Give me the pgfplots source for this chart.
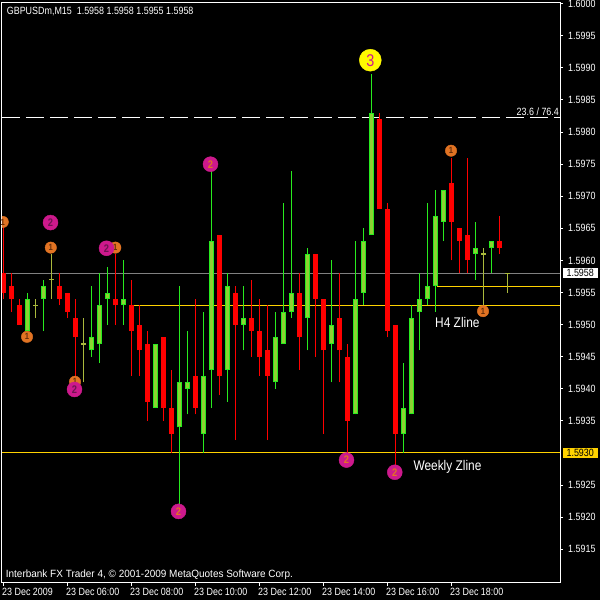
\documentclass[border=0pt]{standalone}
\usepackage{fontspec}
\setmainfont{Liberation Sans}[FakeStretch=0.85]
\newfontfamily\widefont{Liberation Sans}[FakeStretch=0.95]
\usepackage{pgfplots}
\pgfplotsset{compat=1.18}
\usepackage{pgfplotstable}

\definecolor{bullfill}{RGB}{140,210,50}
\definecolor{bullline}{RGB}{40,235,30}
\definecolor{bear}{RGB}{255,0,0}
\definecolor{dojic}{RGB}{170,185,60}
\definecolor{zgold}{RGB}{255,210,0}
\definecolor{bidgray}{RGB}{128,128,128}
\definecolor{mOrange}{RGB}{225,115,35}
\definecolor{mMagenta}{RGB}{205,25,140}
\definecolor{mDark}{RGB}{110,20,80}
\definecolor{mBrown}{RGB}{100,45,10}
\definecolor{mYellow}{RGB}{255,250,0}
\newcommand\lbl{\fontsize{10.5}{10.5}\selectfont}
\newcommand\biglbl{\fontsize{14}{14}\selectfont}
\pgfplotsset{candle/.style={draw=none, mark=none, error bars/.cd, y dir=plus, y explicit, error mark=none}}

% candle data: k = bar index (15-minute bars from 04:00), o h l c
\pgfplotstableread{
k o h l c
3 1.5949 1.5955 1.5949 1.5954
5 1.5954 1.5957 1.5949 1.5956
11 1.5946 1.5956 1.5945 1.5948
12 1.5947 1.5958 1.5944 1.5953
13 1.5954 1.5959 1.5950 1.5955
15 1.5953 1.5960 1.5950 1.5954
19 1.5937 1.5947 1.5937 1.5947
22 1.5934 1.5956 1.5922 1.5941
23 1.5940 1.5949 1.5936 1.5941
25 1.5933 1.5952 1.5930 1.5942
26 1.5943 1.5974 1.5937 1.5963
28 1.5943 1.5958 1.5938 1.5956
30 1.5950 1.5956 1.5946 1.5951
34 1.5941 1.5952 1.5940 1.5948
35 1.5947 1.5969 1.5947 1.5952
36 1.5952 1.5974 1.5951 1.5955
38 1.5951 1.5962 1.5946 1.5961
41 1.5947 1.5960 1.5941 1.5950
44 1.5936 1.5963 1.5936 1.5954
45 1.5955 1.5965 1.5953 1.5963
46 1.5964 1.5989 1.5964 1.5983
50 1.5933 1.5944 1.5930 1.5937
51 1.5936 1.5953 1.5936 1.5951
52 1.5952 1.5958 1.5946 1.5954
53 1.5954 1.5969 1.5953 1.5956
54 1.5956 1.5971 1.5952 1.5967
55 1.5966 1.5971 1.5963 1.5971
59 1.5961 1.5966 1.5957 1.5962
61 1.5962 1.5963 1.5958 1.5963
}\bull

\pgfplotstableread{
k o h l c
0 1.5958 1.5966 1.5954 1.5955
1 1.5956 1.5958 1.5952 1.5954
2 1.5953 1.5954 1.5950 1.5950
7 1.5956 1.5958 1.5953 1.5954
8 1.5955 1.5955 1.5951 1.5952
9 1.5951 1.5954 1.5942 1.5948
14 1.5954 1.5961 1.5950 1.5953
16 1.5953 1.5957 1.5942 1.5949
17 1.5950 1.5953 1.5942 1.5946
18 1.5947 1.5949 1.5935 1.5938
20 1.5948 1.5948 1.5935 1.5937
21 1.5937 1.5943 1.5930 1.5933
24 1.5942 1.5954 1.5936 1.5937
27 1.5964 1.5964 1.5939 1.5942
29 1.5955 1.5956 1.5932 1.5950
31 1.5951 1.5957 1.5945 1.5949
32 1.5949 1.5954 1.5942 1.5945
33 1.5946 1.5953 1.5932 1.5942
37 1.5955 1.5958 1.5943 1.5948
39 1.5961 1.5961 1.5945 1.5954
40 1.5954 1.5954 1.5933 1.5946
42 1.5951 1.5958 1.5941 1.5946
43 1.5945 1.5947 1.5930 1.5935
47 1.5982 1.5983 1.5968 1.5968
48 1.5968 1.5969 1.5948 1.5949
49 1.5950 1.5950 1.5928 1.5933
56 1.5972 1.5976 1.5960 1.5966
57 1.5965 1.5965 1.5958 1.5963
58 1.5964 1.5976 1.5958 1.5960
62 1.5963 1.5967 1.5961 1.5962
}\bear

\pgfplotstableread{
k o h l c
4 1.5953 1.5954 1.5951 1.5953
6 1.5957 1.5961 1.5954 1.5957
10 1.5947 1.5951 1.5941 1.5947
60 1.5961 1.5962 1.5953 1.5961
63 1.5958 1.5958 1.5955 1.5958
}\doji

% wave labels
\pgfplotstableread{
x y t
-0.09 1.59660 1
2.94 1.59481 1
5.91 1.59620 1
13.98 1.59620 1
8.94 1.59411 1
55.94 1.59771 1
59.94 1.59521 1
}\ones
\pgfplotstableread{
x y t
5.875 1.59659 2
12.875 1.59619 2
8.875 1.59399 2
}\twosA
\pgfplotstableread{
x y t
25.875 1.59750 2
21.875 1.59209 2
42.875 1.59289 2
48.91 1.59270 2
}\twosB
\pgfplotstableread{
x y t
45.85 1.59912 3
}\threes

\begin{document}
\begin{tikzpicture}
\fill[black] (0,0) rectangle (600pt,-600pt);
\useasboundingbox (0,0) rectangle (600pt,-600pt);
\begin{axis}[
  at={(2pt,-582.7pt)}, anchor=south west,
  scale only axis, width=558pt, height=580.4pt,
  xmin=-0.1875, xmax=69.5625, ymin=1.590979, ymax=1.600022,
  axis line style={white, line width=1pt},
  clip marker paths=true,
  scaled y ticks=false,
  tick align=outside, major tick length=3pt,
  tick style={white, line width=1pt},
  xtick={0,8,16,24,32,40,48,56},
  xticklabels={23 Dec 2009,23 Dec 06:00,23 Dec 08:00,23 Dec 10:00,23 Dec 12:00,23 Dec 14:00,23 Dec 16:00,23 Dec 18:00},
  xtick pos=left,
  x tick label style={anchor=north west, inner sep=0pt, xshift=-1.5pt, yshift=-2.3pt, font=\lbl, text=white},
  ytick={1.5915,1.5920,1.5925,1.5935,1.5940,1.5945,1.5950,1.5955,1.5960,1.5965,1.5970,1.5975,1.5980,1.5985,1.5990,1.5995,1.6000},
  yticklabels={1.5915,1.5920,1.5925,1.5935,1.5940,1.5945,1.5950,1.5955,1.5960,1.5965,1.5970,1.5975,1.5980,1.5985,1.5990,1.5995,1.6000},
  ytick pos=right, yticklabel pos=right,
  y tick label style={anchor=west, inner sep=0pt, xshift=5pt, font=\lbl, text=white},
]
% level lines
\addplot[bidgray, line width=1pt] coordinates {(-0.1875,1.5958) (69.5625,1.5958)};
\addplot[white, line width=1pt, dash pattern=on 18pt off 6pt] coordinates {(-0.1875,1.59823) (69.5625,1.59823)};
\addplot[zgold, line width=1pt] coordinates {(15.8,1.5953) (69.5625,1.5953)};
\addplot[zgold, line width=1pt] coordinates {(54.15,1.5956) (69.5625,1.5956)};
\addplot[zgold, line width=1pt] coordinates {(-0.1875,1.5930) (69.5625,1.5930)};

% bull candles: wick low->high, body open->close
\addplot[candle, error bar style={draw=bullline, line width=1.5pt}]
  table[x=k, y=l, y error expr={\thisrow{h}-\thisrow{l}}] {\bull};
\addplot[candle, error bar style={draw=bullline, line width=5pt}]
  table[x=k, y=o, y error expr={\thisrow{c}-\thisrow{o}}] {\bull};
\addplot[candle, error bar style={draw=bullfill, line width=3pt}]
  table[x=k, y expr={\thisrow{o}+0.0000156}, y error expr={\thisrow{c}-\thisrow{o}-0.0000312}] {\bull};
% bear candles
\addplot[candle, error bar style={draw=bear, line width=1.5pt}]
  table[x=k, y=l, y error expr={\thisrow{h}-\thisrow{l}}] {\bear};
\addplot[candle, error bar style={draw=bear, line width=5pt}]
  table[x=k, y=c, y error expr={\thisrow{o}-\thisrow{c}}] {\bear};
% doji
\addplot[candle, error bar style={draw=dojic, line width=1.5pt}]
  table[x=k, y=l, y error expr={\thisrow{h}-\thisrow{l}}] {\doji};
\addplot[only marks, mark=-, mark size=2.5pt, mark options={draw=dojic, line width=1.5pt}]
  table[x=k, y=o] {\doji};

% wave labels
\addplot[only marks, mark=*, mark size=5.7pt, mark options={fill=mOrange, draw=mOrange},
  point meta=explicit symbolic, nodes near coords, nodes near coords align=center,
  every node near coord/.style={anchor=center, inner sep=0pt, text=mBrown, font=\fontsize{9}{9}\selectfont\bfseries}]
  table[x=x, y=y, meta=t] {\ones};
\addplot[only marks, mark=*, mark size=7.5pt, mark options={fill=mMagenta, draw=mMagenta},
  point meta=explicit symbolic, nodes near coords, nodes near coords align=center,
  every node near coord/.style={anchor=center, inner sep=0pt, text=mDark, font=\fontsize{11}{11}\selectfont\bfseries}]
  table[x=x, y=y, meta=t] {\twosA};
\addplot[only marks, mark=*, mark size=7.5pt, mark options={fill=mMagenta, draw=mMagenta},
  point meta=explicit symbolic, nodes near coords, nodes near coords align=center,
  every node near coord/.style={anchor=center, inner sep=0pt, text=mOrange, font=\fontsize{11}{11}\selectfont\bfseries}]
  table[x=x, y=y, meta=t] {\twosB};
\addplot[only marks, mark=*, mark size=11pt, mark options={fill=mYellow, draw=mYellow},
  point meta=explicit symbolic, nodes near coords, nodes near coords align=center,
  every node near coord/.style={anchor=center, inner sep=0pt, text=mMagenta, font=\fontsize{17}{17}\selectfont}]
  table[x=x, y=y, meta=t] {\threes};

\coordinate (p5958) at (axis cs:69.5625,1.5958);
\coordinate (p5930) at (axis cs:69.5625,1.5930);
\coordinate (h4) at (axis cs:53.94,1.59496);
\coordinate (wk) at (axis cs:51.23,1.59272);
\coordinate (fib) at (axis cs:69.45,1.598266);
\end{axis}
\node[anchor=west, fill=white, text=black, font=\lbl, inner sep=0pt, minimum width=34.6pt, minimum height=10pt, xshift=2.7pt] at (p5958) {1.5958};
\node[anchor=west, fill=zgold, text=black, font=\lbl, inner sep=0pt, minimum width=34.6pt, minimum height=10pt, xshift=2.7pt] at (p5930) {1.5930};
\node[anchor=base west, inner sep=0pt, text=white, font=\biglbl] at (h4) {H4 Zline};
\node[anchor=base west, inner sep=0pt, text=white, font=\biglbl] at (wk) {Weekly Zline};
\node[anchor=base east, inner sep=0pt, text=white, font=\lbl] at (fib) {23.6 / 76.4};
\node[anchor=base west, inner sep=0pt, text=white, font=\lbl] at (6.7pt,-14.3pt) {GBPUSDm,M15\ \ 1.5958 1.5958 1.5955 1.5958};
\node[anchor=base west, inner sep=0pt, text=white, font=\widefont\lbl] at (5.7pt,-577.8pt) {Interbank FX Trader 4, © 2001-2009 MetaQuotes Software Corp.};
\end{tikzpicture}
\end{document}
